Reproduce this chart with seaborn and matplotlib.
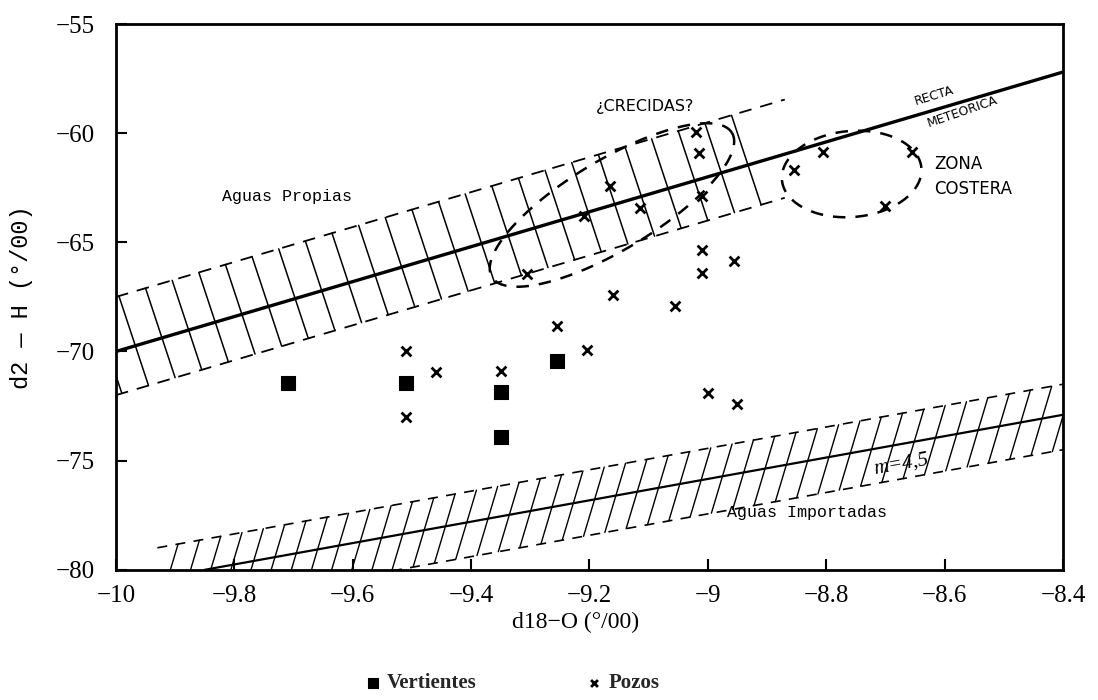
import numpy as np
import pandas as pd
import matplotlib
matplotlib.use("Agg")
import matplotlib.pyplot as plt
import seaborn as sns

# ---------------- data ----------------
vert_x = [-9.71, -9.51, -9.35, -9.35, -9.255]
vert_y = [-71.45, -71.45, -71.85, -73.9, -70.43]

pozos_x = [-9.51, -9.46, -9.51, -9.35, -9.255, -9.205,
           -9.02, -9.015, -9.165, -9.01, -9.115, -9.21,
           -9.01, -8.955, -9.01, -9.16, -9.055, -9.0, -8.95, -9.305,
           -8.805, -8.655, -8.70, -8.855]
pozos_y = [-70.0, -70.95, -73.0, -70.9, -68.85, -69.95,
           -59.95, -60.9, -62.4, -62.9, -63.45, -63.8,
           -65.35, -65.85, -66.4, -67.4, -67.9, -71.9, -72.4, -66.45,
           -60.85, -60.85, -63.35, -61.7]

meteoric_x = [-10.0, -8.4]
meteoric_y = [-70.0, -57.2]
local_x = [-9.85, -8.4]
local_y = [-80.0, -72.9]

xticks = [-10, -9.8, -9.6, -9.4, -9.2, -9.0, -8.8, -8.6, -8.4]
xtick_labels = ["\u221210", "\u22129.8", "\u22129.6", "\u22129.4", "\u22129.2",
                "\u22129", "\u22128.8", "\u22128.6", "\u22128.4"]
yticks = [-80, -75, -70, -65, -60, -55]
ytick_labels = ["\u221280", "\u221275", "\u221270", "\u221265", "\u221260", "\u221255"]

# ---------------- style ----------------
sns.set_theme(style="white")
plt.rcParams["font.family"] = ["DejaVu Sans"]

W, H = 10.98, 7.0
fig = plt.figure(figsize=(W, H), dpi=100)
ax_rect = [0.1056, 0.186, 0.8625, 0.7797]
ax = fig.add_axes(ax_rect)
ax.set_xlim(-10, -8.4)
ax.set_ylim(-80, -55)
px_per_x = ax_rect[2] * W * 100 / 1.6
px_per_y = ax_rect[3] * H * 100 / 25.0

ink = "black"

# ---------------- lines ----------------
sns.lineplot(x=meteoric_x, y=meteoric_y, color=ink, linewidth=2.4, ax=ax)
sns.lineplot(x=local_x, y=local_y, color=ink, linewidth=1.6, ax=ax)

mfit = np.polyfit(meteoric_x, meteoric_y, 1)
lfit = np.polyfit(local_x, local_y, 1)
fm = lambda x: np.polyval(mfit, x)
fl = lambda x: np.polyval(lfit, x)

# upper hatched band (meteoric line)
up_off, lo_off = 2.5, -2.0
bx = np.linspace(-10.0, -8.87, 60)
ax.plot(bx, fm(bx) + up_off, color=ink, lw=1.3, ls=(0, (7, 5)))
ax.plot(bx, fm(bx) + lo_off, color=ink, lw=1.3, ls=(0, (7, 5)))
for x0 in np.arange(-10.04, -8.87 - 0.05, 0.045):
    ax.plot([x0, x0 + 0.05], [fm(x0) + up_off, fm(x0 + 0.05) + lo_off],
            color=ink, lw=1.1)

# lower hatched band (m=4.5 line)
lup, llo = 1.4, -1.6
bx2 = np.linspace(-9.93, -8.4, 60)
ax.plot(bx2, fl(bx2) + lup, color=ink, lw=1.2, ls=(0, (6, 5)))
ax.plot(bx2, fl(bx2) + llo, color=ink, lw=1.2, ls=(0, (6, 5)))
for x0 in np.arange(-9.93, -8.40, 0.036):
    ax.plot([x0, x0 + 0.035], [fl(x0) + llo, fl(x0 + 0.035) + lup],
            color=ink, lw=1.0)

# dashed ellipses
def dashed_ellipse(cx, cy, a_px, b_px, ang_deg):
    t = np.linspace(0, 2 * np.pi, 200)
    th = np.deg2rad(ang_deg)
    X = a_px * np.cos(t) * np.cos(th) - b_px * np.sin(t) * np.sin(th)
    Y = a_px * np.cos(t) * np.sin(th) + b_px * np.sin(t) * np.cos(th)
    ax.plot(cx + X / px_per_x, cy + Y / px_per_y, color=ink, lw=1.8,
            ls=(0, (5, 4)))

dashed_ellipse(-9.162, -63.29, 140, 45, 31)
dashed_ellipse(-8.757, -61.87, 70, 43, 5)

# ---------------- points ----------------
sns.scatterplot(x=vert_x, y=vert_y, marker="s", s=95, color=ink,
                edgecolor=ink, label="Vertientes", ax=ax, zorder=5)
sns.scatterplot(x=pozos_x, y=pozos_y, marker="x", s=50, color=ink,
                linewidth=2.0, label="Pozos", ax=ax, zorder=5)

# ---------------- annotations ----------------
mono = ["Liberation Mono", "DejaVu Sans Mono"]
ax.text(-9.821, -62.92, "Aguas Propias", family=mono, fontsize=12,
        ha="left", va="center", color=ink)
ax.text(-8.968, -77.39, "Aguas Importadas", family=mono, fontsize=12,
        ha="left", va="center", color=ink)
ax.text(-9.106, -58.8, "\u00bfCRECIDAS?", fontsize=11.5, ha="center",
        va="center", color=ink)
ax.text(-8.617, -62.0, "ZONA\nCOSTERA", fontsize=12, ha="left",
        va="center", color=ink, linespacing=1.5)
ax.text(-8.618, -58.3, "RECTA", fontsize=9, ha="center", va="center",
        rotation=17, color=ink)
ax.text(-8.569, -59.0, "METEORICA", fontsize=9, ha="center", va="center",
        rotation=19, color=ink)
ax.text(-8.674, -75.15, "m=4,5", fontsize=15, style="italic",
        family=["Liberation Serif", "DejaVu Serif"], ha="center",
        va="center", rotation=10, color=ink)

# ---------------- axes ----------------
serif = ["Liberation Serif", "DejaVu Serif"]
ax.set_xticks(xticks)
ax.set_xticklabels(xtick_labels, family=serif, fontsize=18)
ax.set_yticks(yticks)
ax.set_yticklabels(ytick_labels, family=serif, fontsize=18)
ax.tick_params(axis="both", direction="in", length=8, width=1.5,
               left=True, bottom=True, top=False, right=False, colors=ink)
ax.tick_params(axis="x", pad=11)
ax.tick_params(axis="y", pad=15)
for sp in ax.spines.values():
    sp.set_visible(True)
    sp.set_color(ink)
    sp.set_linewidth(2.0)
ax.grid(False)

ax.set_xlabel("d18\u2212O (\u00b0/00)", family=serif, fontsize=17, color=ink)
ax.xaxis.set_label_coords(0.485, -0.078)
ax.set_ylabel("d2 \u2014 H (\u00b0/00)", family=mono, fontsize=17, color=ink)
ax.yaxis.set_label_coords(-0.088, 0.5)

handles, labels = ax.get_legend_handles_labels()
ax.legend_.remove()
fig.legend(handles, labels, loc="center", bbox_to_anchor=(0.466, 0.024),
           ncol=2, frameon=False, markerscale=0.7, handletextpad=0.3,
           columnspacing=5.2, handlelength=0.8,
           prop={"family": serif, "weight": "bold", "size": 15})

fig.savefig("out.png", dpi=100, facecolor="white")
